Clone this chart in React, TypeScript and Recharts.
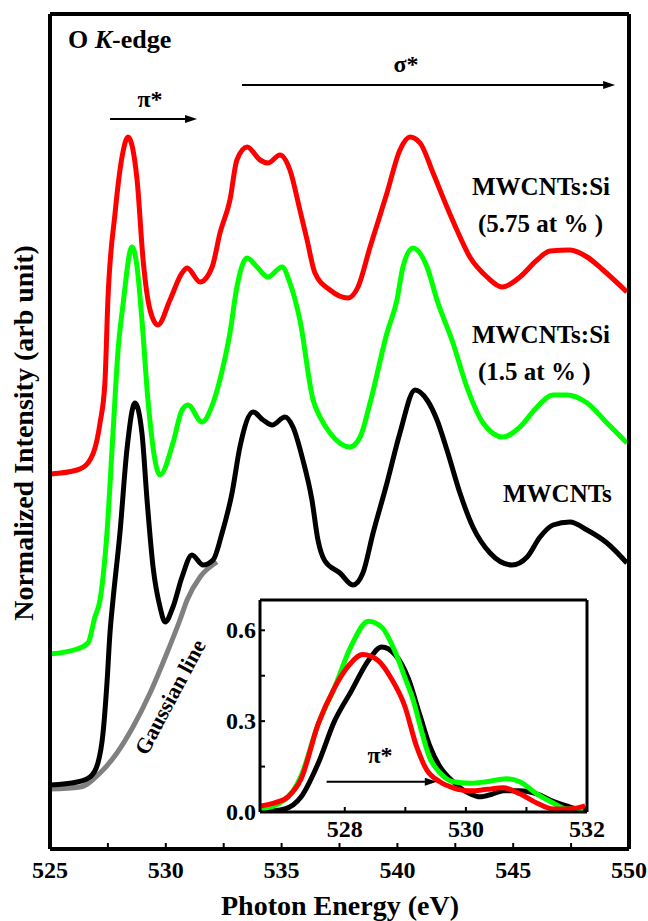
import React from "react";
import { LineChart, Line, XAxis, YAxis, ReferenceLine } from "recharts";

type Pt = [number, number];

// main panel axes
const mainEnergyTicks = [525, 527.5, 530, 532.5, 535, 537.5, 540, 542.5, 545, 547.5, 550];
const mainSideTicks = [
  0.27, 0.56, 0.86, 1.15, 1.44, 1.74, 2.03, 2.32, 2.61, 2.91, 3.2, 3.49, 3.79, 4.08,
  4.37, 4.67, 4.96, 5.25, 5.54, 5.84, 6.13, 6.42, 6.72, 7.01, 7.3, 7.6, 7.89, 8.18,
];

// inset axes
const insetEnergyTicks = [527, 528, 529, 530, 531, 532];
const insetIntensityTicks = [0, 0.15, 0.3, 0.45, 0.6];

// O K-edge spectra (offset, arb. units)
const si575Spectrum: Pt[] = [
  [525.0, 3.75], [526.17, 3.79], [526.64, 3.86], [527.03, 4.09], [527.16, 4.26], [527.37, 4.66],
  [527.5, 5.49], [527.81, 6.36], [528.11, 6.92], [528.37, 7.12], [528.76, 6.69], [529.02, 5.89],
  [529.32, 5.39], [529.66, 5.24], [530.18, 5.49], [530.7, 5.76], [530.92, 5.81], [531.48, 5.67],
  [532.0, 5.82], [532.34, 6.16], [532.77, 6.49], [533.07, 6.89], [533.51, 7.02], [534.07, 6.89],
  [534.41, 6.86], [534.93, 6.94], [535.36, 6.79], [535.79, 6.39], [536.1, 6.09], [536.44, 5.76],
  [537.09, 5.59], [537.87, 5.51], [538.3, 5.62], [538.82, 6.02], [539.55, 6.56], [540.11, 6.99],
  [540.54, 7.12], [540.98, 7.06], [541.54, 6.76], [542.14, 6.42], [542.57, 6.19], [543.13, 5.92],
  [543.87, 5.72], [544.52, 5.62], [545.29, 5.72], [546.03, 5.89], [546.59, 5.98], [547.45, 5.99],
  [548.19, 5.92], [548.88, 5.79], [549.91, 5.57],
];

const si15Spectrum: Pt[] = [
  [525.0, 1.95], [526.17, 2.0], [526.64, 2.06], [526.94, 2.32], [527.16, 2.49], [527.46, 3.16],
  [527.72, 4.16], [527.94, 4.99], [528.15, 5.44], [528.54, 6.02], [528.76, 5.82], [528.97, 5.29],
  [529.23, 4.49], [529.75, 3.74], [530.31, 4.06], [530.7, 4.39], [530.96, 4.44], [531.56, 4.27],
  [532.04, 4.46], [532.47, 4.82], [532.77, 5.16], [533.07, 5.62], [533.51, 5.91], [533.94, 5.82],
  [534.41, 5.72], [535.02, 5.82], [535.36, 5.66], [535.79, 5.29], [536.36, 4.49], [536.66, 4.32],
  [537.09, 4.16], [537.95, 4.02], [538.39, 4.12], [538.82, 4.46], [539.55, 5.16], [539.98, 5.49],
  [540.24, 5.82], [540.67, 6.01], [541.28, 5.82], [541.71, 5.49], [542.4, 5.06], [543.0, 4.62],
  [543.7, 4.26], [544.56, 4.12], [545.29, 4.22], [546.03, 4.42], [546.72, 4.54], [547.32, 4.54],
  [548.19, 4.46], [549.05, 4.26], [549.91, 4.06],
];

const pristineSpectrum: Pt[] = [
  [525.0, 0.64], [526.17, 0.67], [526.73, 0.72], [527.07, 0.86], [527.29, 1.16], [527.46, 1.66],
  [527.59, 2.16], [527.72, 2.49], [528.02, 3.16], [528.32, 3.99], [528.67, 4.46], [528.97, 4.16],
  [529.19, 3.49], [529.45, 2.82], [529.75, 2.42], [529.97, 2.27], [530.31, 2.42], [530.7, 2.72],
  [531.13, 2.94], [531.61, 2.84], [532.04, 2.89], [532.43, 3.16], [532.86, 3.56], [533.2, 4.02],
  [533.77, 4.37], [534.2, 4.29], [534.59, 4.24], [535.15, 4.32], [535.49, 4.22], [535.92, 3.89],
  [536.31, 3.49], [536.57, 3.09], [536.87, 2.88], [537.52, 2.76], [538.08, 2.64],
  [538.51, 2.76], [538.95, 3.16], [539.55, 3.66], [540.11, 4.16], [540.76, 4.59], [541.28, 4.49],
  [541.71, 4.29], [542.14, 3.99], [542.7, 3.56], [543.26, 3.22], [544.0, 2.96], [544.95, 2.84],
  [545.6, 2.92], [546.16, 3.12], [546.72, 3.24], [547.45, 3.27], [548.19, 3.19], [549.05, 3.06],
  [549.91, 2.86],
];

const gaussianLine: Pt[] = [
  [525.0, 0.6], [526.3, 0.62], [527.16, 0.76], [527.89, 0.96], [528.58, 1.22], [529.32, 1.56],
  [530.05, 1.96], [530.61, 2.29], [530.92, 2.49], [531.48, 2.72], [532.21, 2.87],
];

// inset: pi* region after gaussian subtraction
const insetPristine: Pt[] = [
  [526.62, 0.0], [527.01, 0.01], [527.28, 0.05], [527.56, 0.16], [527.83, 0.3], [528.11, 0.4],
  [528.39, 0.5], [528.61, 0.545], [528.83, 0.52], [529.05, 0.44], [529.24, 0.32], [529.4, 0.22],
  [529.57, 0.15], [529.79, 0.1], [530.07, 0.06], [530.23, 0.05], [530.45, 0.06], [530.62, 0.07],
  [530.89, 0.07], [531.17, 0.06], [531.44, 0.035], [531.66, 0.02], [531.88, 0.01], [532.0, 0.01],
];

const insetSi15: Pt[] = [
  [526.62, 0.01], [527.01, 0.04], [527.28, 0.12], [527.56, 0.29], [527.83, 0.41], [528.11, 0.55],
  [528.39, 0.63], [528.61, 0.61], [528.83, 0.53], [529.0, 0.44], [529.13, 0.37], [529.25, 0.28],
  [529.4, 0.18], [529.57, 0.13], [529.79, 0.1], [530.07, 0.095], [530.34, 0.1], [530.67, 0.11],
  [530.89, 0.1], [531.17, 0.06], [531.44, 0.03], [531.66, 0.01], [531.94, 0.01],
];

const insetSi575: Pt[] = [
  [526.62, 0.02], [526.84, 0.03], [527.06, 0.05], [527.28, 0.11], [527.56, 0.29], [527.83, 0.41],
  [528.05, 0.48], [528.3, 0.52], [528.55, 0.5], [528.77, 0.44], [528.99, 0.35], [529.18, 0.22],
  [529.35, 0.14], [529.57, 0.1], [529.79, 0.08], [530.07, 0.07], [530.35, 0.075], [530.62, 0.08],
  [530.89, 0.06], [531.17, 0.03], [531.44, 0.01], [531.72, 0.01], [531.97, 0.02],
];

const rows = (pts: Pt[]) => pts.map(([e, v]) => ({ e, v }));

const FONT = '"Liberation Serif", "Times New Roman", serif';
const frame = { stroke: "#000", strokeWidth: 4 };
const insetFrame = { stroke: "#000", strokeWidth: 3 };
const tickMark = { stroke: "#000", strokeWidth: 2 };

// bold serif tick labels, placed below (x) or left of (y) the frame
function BottomTick(props: any) {
  const { x, y, payload, show } = props;
  if (!show(payload.value)) return null;
  return (
    <text x={x} y={y} textAnchor="middle" dominantBaseline="hanging"
      fontFamily={FONT} fontSize={24} fontWeight={700} fill="#000">
      {payload.value}
    </text>
  );
}

function LeftTick(props: any) {
  const { x, y, payload, show } = props;
  if (!show(payload.value)) return null;
  return (
    <text x={x} y={y} textAnchor="end" dominantBaseline="central"
      fontFamily={FONT} fontSize={24} fontWeight={700} fill="#000">
      {payload.value.toFixed(1)}
    </text>
  );
}

function Arrow(props: any) {
  const { x1, y1, x2, y2 } = props;
  const head = 12;
  return (
    <g>
      <line x1={x1} y1={y1} x2={x2 - head + 1} y2={y2} stroke="#000" strokeWidth={2} />
      <polygon
        points={`${x2},${y2} ${x2 - head},${y2 - 4} ${x2 - head},${y2 + 4}`}
        fill="#000"
      />
    </g>
  );
}

export default function App() {
  return (
    <div style={{ position: "absolute", left: 0, top: 0, width: 648, height: 921, background: "#fff" }}>
      <div style={{ position: "absolute", left: 0, top: 0 }}>
        <LineChart width={648} height={921} margin={{ top: 13, right: 18, bottom: 71, left: 49 }}>
          <XAxis
            xAxisId="b"
            type="number"
            dataKey="e"
            domain={[525, 550]}
            ticks={mainEnergyTicks}
            interval={0}
            tick={<BottomTick show={(v: number) => v % 5 === 0} />}
            tickSize={-6}
            tickMargin={18}
            height={1}
            axisLine={frame}
            tickLine={tickMark}
            allowDataOverflow
          />
          <XAxis
            xAxisId="t"
            orientation="top"
            type="number"
            domain={[525, 550]}
            ticks={mainEnergyTicks}
            interval={0}
            tick={false}
            tickSize={-6}
            height={1}
            axisLine={frame}
            tickLine={tickMark}
            allowDataOverflow
          />
          <YAxis
            yAxisId="l"
            type="number"
            domain={[0, 8.35]}
            ticks={mainSideTicks}
            interval={0}
            tick={false}
            tickSize={-4}
            width={1}
            axisLine={frame}
            tickLine={tickMark}
            allowDataOverflow
          />
          <YAxis
            yAxisId="r"
            orientation="right"
            type="number"
            domain={[0, 8.35]}
            ticks={mainSideTicks}
            interval={0}
            tick={false}
            tickSize={-4}
            width={1}
            axisLine={frame}
            tickLine={tickMark}
            allowDataOverflow
          />
          <Line xAxisId="b" yAxisId="l" data={rows(gaussianLine)} dataKey="v" type="monotone" stroke="#808080" strokeWidth={5} dot={false} isAnimationActive={false} />
          <Line xAxisId="b" yAxisId="l" data={rows(pristineSpectrum)} dataKey="v" type="monotone" stroke="#000000" strokeWidth={5} dot={false} isAnimationActive={false} />
          <Line xAxisId="b" yAxisId="l" data={rows(si15Spectrum)} dataKey="v" type="monotone" stroke="#00ff00" strokeWidth={5} dot={false} isAnimationActive={false} />
          <Line xAxisId="b" yAxisId="l" data={rows(si575Spectrum)} dataKey="v" type="monotone" stroke="#ff0000" strokeWidth={5} dot={false} isAnimationActive={false} />
          <ReferenceLine xAxisId="b" yAxisId="l" segment={[{ x: 527.59, y: 7.3 }, { x: 531.35, y: 7.3 }]} shape={Arrow} />
          <ReferenceLine xAxisId="b" yAxisId="l" segment={[{ x: 533.29, y: 7.64 }, { x: 549.4, y: 7.64 }]} shape={Arrow} />
        </LineChart>
      </div>

      <div style={{ position: "absolute", left: 200, top: 590 }}>
        <LineChart width={430} height={270} margin={{ top: 9, right: 42, bottom: 47, left: 59 }}>
          <XAxis
            xAxisId="b"
            type="number"
            dataKey="e"
            domain={[526.6, 532]}
            ticks={insetEnergyTicks}
            interval={0}
            tick={<BottomTick show={(v: number) => v % 2 === 0} />}
            tickSize={-5}
            tickMargin={13}
            height={1}
            axisLine={insetFrame}
            tickLine={tickMark}
            allowDataOverflow
          />
          <XAxis
            xAxisId="t"
            orientation="top"
            type="number"
            domain={[526.6, 532]}
            ticks={insetEnergyTicks}
            interval={0}
            tick={false}
            tickSize={-4}
            height={1}
            axisLine={insetFrame}
            tickLine={tickMark}
            allowDataOverflow
          />
          <YAxis
            yAxisId="l"
            type="number"
            domain={[0, 0.7]}
            ticks={insetIntensityTicks}
            interval={0}
            tick={<LeftTick show={(v: number) => [0, 0.3, 0.6].includes(v)} />}
            tickSize={-5}
            tickMargin={9}
            width={1}
            axisLine={insetFrame}
            tickLine={tickMark}
            allowDataOverflow
          />
          <YAxis
            yAxisId="r"
            orientation="right"
            type="number"
            domain={[0, 0.7]}
            ticks={insetIntensityTicks}
            interval={0}
            tick={false}
            tickSize={-4}
            width={1}
            axisLine={insetFrame}
            tickLine={tickMark}
            allowDataOverflow
          />
          <Line xAxisId="b" yAxisId="l" data={rows(insetPristine)} dataKey="v" type="monotone" stroke="#000000" strokeWidth={5} dot={false} isAnimationActive={false} />
          <Line xAxisId="b" yAxisId="l" data={rows(insetSi15)} dataKey="v" type="monotone" stroke="#00ff00" strokeWidth={5} dot={false} isAnimationActive={false} />
          <Line xAxisId="b" yAxisId="l" data={rows(insetSi575)} dataKey="v" type="monotone" stroke="#ff0000" strokeWidth={5} dot={false} isAnimationActive={false} />
          <ReferenceLine xAxisId="b" yAxisId="l" segment={[{ x: 527.7, y: 0.1 }, { x: 529.52, y: 0.1 }]} shape={Arrow} />
        </LineChart>
      </div>

      <svg
        width={648}
        height={921}
        style={{ position: "absolute", left: 0, top: 0, pointerEvents: "none" }}
        fontFamily={FONT}
        fontWeight={700}
      >
        <text x={68} y={48} fontSize={26}>
          O <tspan fontStyle="italic">K</tspan>-edge
        </text>
        <text x={150} y={107} fontSize={24} textAnchor="middle">π*</text>
        <text x={406} y={72} fontSize={24} textAnchor="middle">σ*</text>
        <text x={472} y={195} fontSize={25}>MWCNTs:Si</text>
        <text x={478} y={232} fontSize={25}>(5.75 at % )</text>
        <text x={472} y={343} fontSize={25}>MWCNTs:Si</text>
        <text x={478} y={380} fontSize={25}>(1.5 at % )</text>
        <text x={503} y={502} fontSize={25}>MWCNTs</text>
        <text
          x={170}
          y={697}
          fontSize={22}
          textAnchor="middle"
          dominantBaseline="central"
          transform="rotate(-62 170 697)"
        >
          Gaussian line
        </text>
        <text x={380} y={763} fontSize={24} textAnchor="middle">π*</text>
        <text x={0} y={0} fontSize={28} textAnchor="middle" transform="translate(33 433) rotate(-90)">
          Normalized Intensity (arb unit)
        </text>
        <text x={340} y={915} fontSize={28} textAnchor="middle">Photon Energy (eV)</text>
      </svg>
    </div>
  );
}
